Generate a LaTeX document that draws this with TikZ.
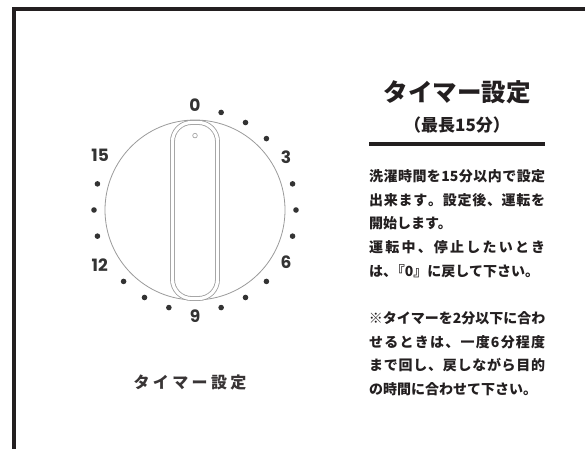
\documentclass[tikz,border=0pt]{standalone}
\usepackage{fontspec}
\usetikzlibrary{positioning}
\newfontfamily\jpfont{Noto Sans CJK JP}
\newfontfamily\numfont{Poppins}
\definecolor{ink}{HTML}{231F20}
\definecolor{dialgray}{HTML}{9A9A9A}
\definecolor{digit}{HTML}{333333}
% spread the characters of a line over a given width
\def\spreadA#1#2\relax{#1\ifx\relax#2\relax\else\hfill\spreadA#2\relax\fi}
\newcommand\jfill[2]{\makebox[#1]{\spreadA#2\relax}}

\begin{document}
\begin{tikzpicture}
            [x=1pt, y=-1pt,
            dot/.style={circle, fill=digit, inner sep=0pt, minimum size=5.6pt},
            num/.style={font=\numfont\bfseries\fontsize{17}{17}\selectfont,
            text=digit, inner sep=0pt},
            jline/.style={font=\jpfont\bfseries\fontsize{14}{14}\selectfont,
            text=ink, inner sep=0pt, text height=12.3pt, text depth=1.7pt,
            minimum height=23.3pt, anchor=north west},
            knob/.style={draw=dialgray, line width=0.8pt, double=white,
            double distance=3.2pt, fill=white, rounded corners=19pt,
            minimum width=45pt, minimum height=176pt, inner sep=0pt}]
            \useasboundingbox (0,0) rectangle (585,448);
            \clip (0,0) rectangle (585,448);
            % frame
            \draw[ink, line width=4pt, line join=miter] (14,470) -- (14,9.3) -- (600,9.3);
            % dial
            \coordinate (dial) at (195,210);
            \draw[dialgray, line width=0.8pt] (dial) circle[radius=90];
            \node[knob] (knob) at (195,210.5) {};
            \node[circle, draw=dialgray, line width=0.6pt, inner sep=0pt,
                minimum size=4.6pt, below=10.9pt of knob.north] (hole) {};
            \foreach \a in {-75,-60,-45,-15,0,15,45,60,75,105,120,135,165,180,195}
                \node[dot] (dot\a) at ([shift={(\a:101)}]dial) {};
            \node[num] (n0) at ([shift={(-90:105)}]dial) {0};
            \node[num] (n3) at ([shift={(-30:105)}]dial) {3};
            \node[num] (n6) at ([shift={(30:105)}]dial) {6};
            \node[num] (n9) at ([shift={(90:106)}]dial) {9};
            \node[num] (n12) at ([shift={(150:110)}]dial) {12};
            \node[num] (n15) at ([shift={(-150:109.5)}]dial) {15};
            \node[font=\jpfont\bfseries\fontsize{16}{16}\selectfont, text=ink!90] (caption)
                at (190,382) {\jfill{113pt}{タイマー設定}};
            % heading
            \node[font=\jpfont\bfseries\fontsize{24.5}{24.5}\selectfont, text=ink] (title)
                at (457,92) {タイマー設定};
            \node[font=\jpfont\bfseries\fontsize{17}{17}\selectfont, text=ink] (sub)
                at (457,125) {（最長15分）};
            \coordinate (ruleL) at (369,144);
            \coordinate (ruleR) at (545,144);
            \draw[ink, line width=4pt] (ruleL) -- (ruleR);
            % notes
            \node[jline] (l1) at (369,164.35) {\jfill{176pt}{洗濯時間を{15}分以内で設定}};
            \node[jline] (l2) at (l1.south west) {\jfill{176pt}{出来ます。設定後、運転を}};
            \node[jline] (l3) at (l2.south west) {開始します。};
            \node[jline] (l4) at (l3.south west) {\jfill{176pt}{運転中、停止したいとき}};
            \node[jline] (l5) at (l4.south west) {は、\kern-0.45em『0』に戻して下さい。};
            \node[jline, yshift=-23.3pt] (l6) at (l5.south west) {\jfill{176pt}{※タイマーを2分以下に合わ}};
            \node[jline] (l7) at (l6.south west) {\jfill{176pt}{せるときは、一度6分程度}};
            \node[jline] (l8) at (l7.south west) {\jfill{176pt}{まで回し、戻しながら目的}};
            \node[jline] (l9) at (l8.south west) {の時間に合わせて下さい。};
\end{tikzpicture}
\end{document}
